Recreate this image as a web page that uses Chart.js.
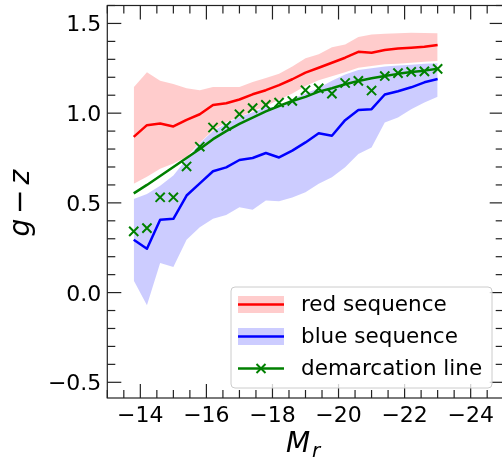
<!DOCTYPE html>
<html>
<head>
<meta charset="utf-8">
<script src="https://cdn.jsdelivr.net/npm/chart.js@4.4.1/dist/chart.umd.min.js"></script>
<style>
  html, body { margin: 0; padding: 0; background: #fff; overflow: hidden; }
  #wrap { width: 502px; height: 459px; overflow: hidden; }
</style>
</head>
<body>
<div id="wrap"><canvas id="c" width="506" height="459"></canvas></div>
<script>
// magnitude bins (M_r)
const mags = [-13.8, -14.2, -14.6, -15.0, -15.4, -15.8, -16.2, -16.6, -17.0, -17.4, -17.8, -18.2,
              -18.6, -19.0, -19.4, -19.8, -20.2, -20.6, -21.0, -21.4, -21.8, -22.2, -22.6, -23.0];

// red sequence: median + band
const redMid   = [0.868, 0.933, 0.942, 0.926, 0.963, 0.994, 1.046, 1.055, 1.076, 1.105, 1.128, 1.156,
                  1.189, 1.226, 1.253, 1.281, 1.309, 1.342, 1.337, 1.352, 1.360, 1.365, 1.370, 1.380];
const redHigh  = [1.144, 1.228, 1.181, 1.163, 1.139, 1.128, 1.146, 1.146, 1.146, 1.174, 1.196, 1.219,
                  1.260, 1.306, 1.328, 1.368, 1.383, 1.424, 1.439, 1.443, 1.446, 1.448, 1.447, 1.446];
const redLow   = [0.606, 0.645, 0.690, 0.720, 0.755, 0.835, 0.905, 0.948, 0.980, 1.010, 1.040, 1.075,
                  1.110, 1.151, 1.183, 1.205, 1.228, 1.253, 1.263, 1.272, 1.276, 1.281, 1.287, 1.290];

// blue sequence: median + band
const blueMid  = [0.294, 0.244, 0.406, 0.411, 0.541, 0.609, 0.676, 0.698, 0.739, 0.750, 0.778, 0.753,
                  0.791, 0.837, 0.888, 0.874, 0.961, 1.017, 1.022, 1.104, 1.122, 1.144, 1.172, 1.190];
const blueHigh = [0.522, 0.550, 0.596, 0.652, 0.745, 0.832, 0.900, 0.943, 0.978, 1.005, 1.035, 1.035,
                  1.080, 1.110, 1.140, 1.180, 1.215, 1.240, 1.250, 1.260, 1.265, 1.270, 1.275, 1.278];
const blueLow  = [0.068, -0.071, 0.165, 0.142, 0.294, 0.364, 0.411, 0.433, 0.476, 0.461, 0.513, 0.509,
                  0.530, 0.559, 0.606, 0.643, 0.698, 0.772, 0.809, 0.948, 0.976, 1.022, 1.059, 1.091];

// demarcation: measured points + smooth fit
const demPts   = [0.341, 0.359, 0.531, 0.531, 0.703, 0.813, 0.920, 0.929, 0.994, 1.028, 1.046, 1.059,
                  1.068, 1.128, 1.138, 1.109, 1.168, 1.180, 1.126, 1.207, 1.223, 1.230, 1.233, 1.247];
const demFit   = [0.553, 0.600, 0.650, 0.700, 0.750, 0.800, 0.855, 0.900, 0.940, 0.975, 1.010, 1.040,
                  1.068, 1.091, 1.120, 1.139, 1.161, 1.179, 1.194, 1.207, 1.219, 1.229, 1.237, 1.248];

// axis ticks
const xTicks = [-14, -16, -18, -20, -22, -24];
const yTicks = [-0.5, 0.0, 0.5, 1.0, 1.5];

const FONT = "'DejaVu Sans', sans-serif";
const pts = arr => mags.map((m, i) => ({x: m, y: arr[i]}));
const minus = s => String(s).replace('-', '\u2212');

// 邊框、向內的刻度、刻度標籤、座標軸標題和圖例
const decor = {
  id: 'decor',
  afterDraw(chart) {
    const {ctx, chartArea: a, scales: {x, y}} = chart;
    ctx.save();
    ctx.strokeStyle = '#222';
    ctx.lineWidth = 1.2;
    ctx.strokeRect(a.left, a.top, a.right - a.left, a.bottom - a.top);

    const line = (x0, y0, x1, y1) => { ctx.beginPath(); ctx.moveTo(x0, y0); ctx.lineTo(x1, y1); ctx.stroke(); };
    for (let k = -50; k <= -26; k++) {          // every 0.5 mag
      const v = k / 2;
      const len = xTicks.includes(v) ? 14 : 8;
      const px = x.getPixelForValue(v);
      line(px, a.bottom, px, a.bottom - len);
      line(px, a.top, px, a.top + len);
    }
    for (let k = -5; k <= 16; k++) {            // every 0.1
      const len = k % 5 === 0 ? 14 : 8;
      const py = y.getPixelForValue(k / 10);
      line(a.left, py, a.left + len, py);
      line(a.right, py, a.right - len, py);
    }

    // tick labels
    ctx.fillStyle = '#000';
    ctx.font = `22px ${FONT}`;
    ctx.textBaseline = 'alphabetic';
    ctx.textAlign = 'center';
    xTicks.forEach(v => ctx.fillText(minus(v), x.getPixelForValue(v), a.bottom + 24));
    ctx.textAlign = 'right';
    yTicks.forEach(v => ctx.fillText(minus(v.toFixed(1)), a.left - 6, y.getPixelForValue(v) + 8));

    // y title: g − z (rotated)
    const it = `italic 28px ${FONT}`;
    ctx.save();
    ctx.translate(0, 201.5);
    ctx.rotate(-Math.PI / 2);
    ctx.textAlign = 'left';
    ctx.font = it;
    ctx.fillText('g', -35, 28.5);
    ctx.fillRect(-9.5, 18.8, 18.5, 2.4);
    ctx.fillText('z', 17, 28.5);
    ctx.restore();

    // x title: M_r
    ctx.textAlign = 'left';
    ctx.font = it;
    ctx.fillText('M', 286, 451.5);
    ctx.font = `italic 20px ${FONT}`;
    ctx.fillText('r', 312, 457);

    // legend
    ctx.beginPath();
    ctx.roundRect(231, 287, 261, 101, 4);
    ctx.fillStyle = 'rgba(255,255,255,0.8)';
    ctx.fill();
    ctx.strokeStyle = '#cccccc';
    ctx.lineWidth = 1;
    ctx.stroke();
    const items = [
      {label: 'red sequence', color: 'red', band: 'rgba(255,0,0,0.2)'},
      {label: 'blue sequence', color: 'blue', band: 'rgba(0,0,255,0.2)'},
      {label: 'demarcation line', color: 'green', marker: true}
    ];
    const rows = [304.5, 336.5, 368.5];
    items.forEach((item, i) => {
      const ry = rows[i];
      if (item.band) {
        ctx.fillStyle = item.band;
        ctx.fillRect(238, ry - 8.5, 46, 17);
      }
      ctx.strokeStyle = item.color;
      ctx.lineWidth = 2.5;
      line(238, ry, 284, ry);
      if (item.marker) {
        ctx.lineWidth = 2;
        line(256.5, ry - 4.5, 265.5, ry + 4.5);
        line(256.5, ry + 4.5, 265.5, ry - 4.5);
      }
      ctx.fillStyle = '#000';
      ctx.font = `21.5px ${FONT}`;
      ctx.textAlign = 'left';
      ctx.textBaseline = 'middle';
      ctx.fillText(item.label, 301, ry + 1);
    });
    ctx.restore();
  }
};

new Chart(document.getElementById('c').getContext('2d'), {
  type: 'line',
  data: {
    datasets: [
      {data: pts(redHigh), fill: '+1', backgroundColor: 'rgba(255,0,0,0.2)', borderWidth: 0, pointRadius: 0, order: 7},
      {data: pts(redLow), fill: false, borderWidth: 0, pointRadius: 0, order: 6},
      {data: pts(blueHigh), fill: '+1', backgroundColor: 'rgba(0,0,255,0.2)', borderWidth: 0, pointRadius: 0, order: 5},
      {data: pts(blueLow), fill: false, borderWidth: 0, pointRadius: 0, order: 4},
      {label: 'red sequence', data: pts(redMid), borderColor: 'red', borderWidth: 2.5, pointRadius: 0, fill: false, order: 3},
      {label: 'blue sequence', data: pts(blueMid), borderColor: 'blue', borderWidth: 2.5, pointRadius: 0, fill: false, order: 2},
      {label: 'demarcation line', data: pts(demFit), borderColor: 'green', borderWidth: 2.5, pointRadius: 0, fill: false, order: 1},
      {data: pts(demPts), showLine: false, pointStyle: 'crossRot', pointRadius: 6.5, pointBorderWidth: 2,
       borderColor: 'green', pointBorderColor: 'green', order: 0}
    ]
  },
  options: {
    responsive: false,
    animation: false,
    layout: {autoPadding: false, padding: {left: 107.3, top: 5.5, right: 2.3, bottom: 61}},
    elements: {line: {tension: 0, borderCapStyle: 'butt', borderJoinStyle: 'round'}},
    plugins: {legend: {display: false}, tooltip: {enabled: false}},
    scales: {
      x: {type: 'linear', reverse: true, min: -25, max: -13, display: false},
      y: {type: 'linear', min: -0.5875, max: 1.6, display: false}
    }
  },
  plugins: [decor]
});
</script>
</body>
</html>
